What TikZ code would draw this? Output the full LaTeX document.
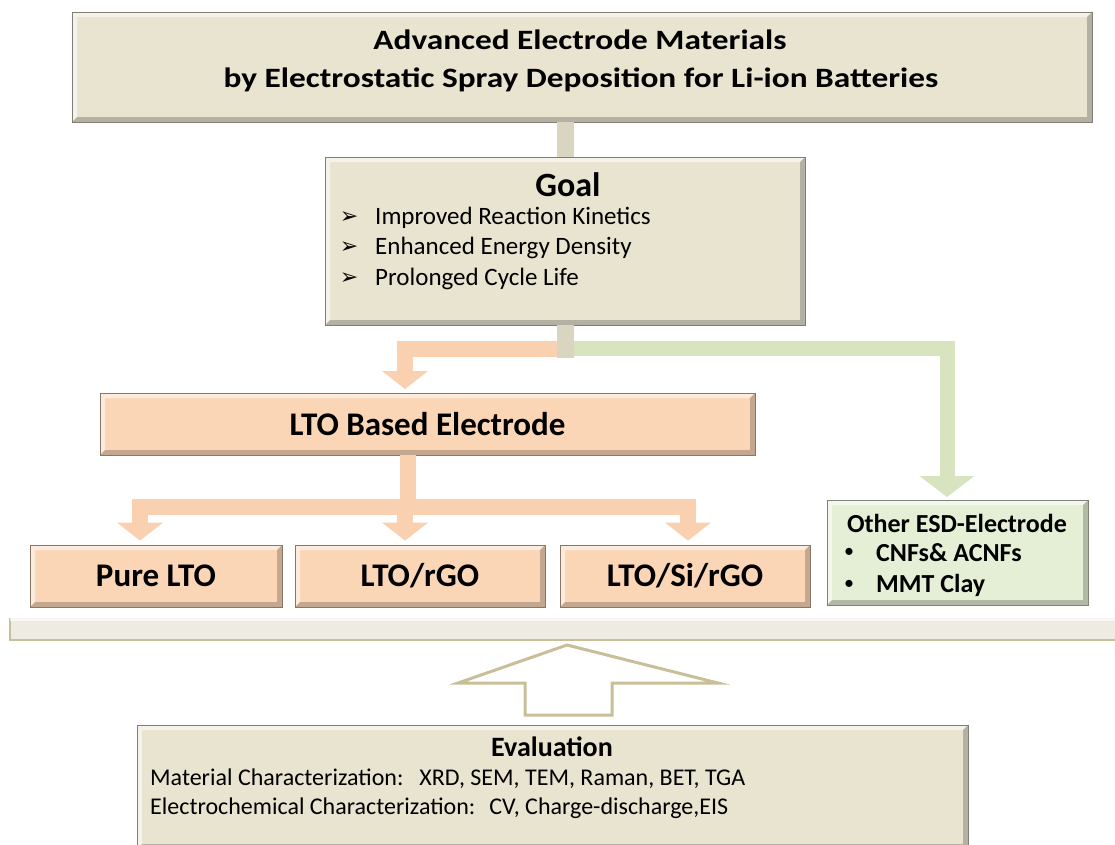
\documentclass[tikz,border=0pt]{standalone}
\usepackage{fontspec}
\usepackage{graphicx}
\setmainfont{Carlito}
\newfontfamily\symfont{DejaVu Sans}
\usetikzlibrary{arrows.meta}
\definecolor{beige}{HTML}{E9E4D0}
\definecolor{beigebar}{HTML}{D9D5C1}
\definecolor{peach}{HTML}{FBD6B6}
\definecolor{peachbar}{HTML}{FAD1B0}
\definecolor{lgreen}{HTML}{E5EFD5}
\definecolor{greenbar}{HTML}{D8E4C0}
\definecolor{platform}{HTML}{EEECE2}
\definecolor{olive}{HTML}{C8BF98}
\tikzset{
  bevel/.style={draw=#1!55!black, line width=0.8pt, fill=#1, inner sep=0pt,
    path picture={
      \path (path picture bounding box.north west) coordinate (bnw)
            (path picture bounding box.south east) coordinate (bse);
      \fill[white,opacity=0.55] (bnw) -- (bnw -| bse) -- ([shift={(-5pt,-5pt)}]bnw -| bse)
        -- ([shift={(5pt,-5pt)}]bnw) -- ([shift={(5pt,5pt)}]bnw |- bse) -- (bnw |- bse) -- cycle;
      \fill[black,opacity=0.22] (bse) -- (bse |- bnw) -- ([shift={(-5pt,-5pt)}]bse |- bnw)
        -- ([shift={(-5pt,5pt)}]bse) -- ([shift={(5pt,5pt)}]bnw |- bse) -- (bnw |- bse) -- cycle;
    }},
  bigbold/.style={font=\bfseries\fontsize{33}{38}\selectfont},
  txt/.style={inner sep=0pt, font=\fontsize{25}{30}\selectfont},
  evtxt/.style={inner sep=0pt, font=\fontsize{24}{28}\selectfont},
  othtxt/.style={inner sep=0pt, font=\bfseries\fontsize{26}{30}\selectfont},
  dotbul/.style={inner sep=0pt, font=\fontsize{20}{24}\selectfont},
  bul/.style={inner sep=0pt, font=\symfont\fontsize{22}{26}\selectfont},
  bbar/.style={draw=beigebar, line width=17pt},
  obar/.style={draw=peachbar, line width=16pt},
  oarrow/.style={obar, -{Triangle[width=46pt,length=18pt,line width=0pt]}, shorten >=4pt},
  garrow/.style={draw=greenbar, line width=15pt, -{Triangle[width=55pt,length=21pt,line width=0pt]}, shorten >=3pt},
}
\begin{document}
\begin{tikzpicture}[x=1pt,y=-1pt]
\useasboundingbox (0,0) rectangle (1115,844);
% boxes
\node[bevel=beige, minimum width=1020pt, minimum height=110pt] (title) at (582,67) {};
\node[inner sep=0pt, font=\bfseries\fontsize{28}{33}\selectfont] (title1) at (580,40)
  {\scalebox{1.19}[1]{Advanced Electrode Materials}};
\node[inner sep=0pt, font=\bfseries\fontsize{28}{33}\selectfont] (title2) at (581,80)
  {\scalebox{1.19}[1]{by Electrostatic Spray Deposition for Li-ion Batteries}};
\node[bevel=beige, minimum width=480pt, minimum height=168pt] (goal) at (565,241) {};
\node[inner sep=0pt, font=\bfseries\fontsize{34}{38}\selectfont] (goalt) at (568,185) {Goal};
\node[txt, anchor=west] (g1) at (375,218) {Improved Reaction Kinetics};
\node[txt, anchor=west] (g2) at (375,248) {Enhanced Energy Density};
\node[txt, anchor=west] (g3) at (375,279) {Prolonged Cycle Life};
\node[bul] (b1) at (349,218) {➢};
\node[bul] (b2) at (349,248) {➢};
\node[bul] (b3) at (349,279) {➢};

\node[bevel=peach, minimum width=655pt, minimum height=62pt, bigbold] (lto) at (427.5,424) {LTO Based Electrode};
\node[bevel=peach, minimum width=252pt, minimum height=62pt, bigbold] (pure) at (156,576) {Pure LTO};
\node[bevel=peach, minimum width=250pt, minimum height=62pt, bigbold] (rgo) at (420,576) {LTO/rGO};
\node[bevel=peach, minimum width=250pt, minimum height=62pt, bigbold] (si) at (685,576) {LTO/Si/rGO};

\node[bevel=lgreen, minimum width=261pt, minimum height=105pt] (other) at (957.5,552.5) {};
\node[othtxt] (othert) at (957,523) {Other ESD-Electrode};
\node[othtxt, anchor=west] (o1) at (876,553) {CNFs\& ACNFs};
\node[othtxt, anchor=west] (o2) at (876,585) {MMT Clay};
\node[dotbul] (ob1) at (849,553) {•};
\node[dotbul] (ob2) at (849,585) {•};

% platform
\node[fill=platform, minimum width=1110pt, minimum height=22pt, inner sep=0pt] (base) at (565,629) {};
\draw[olive, line width=2.5pt] (base.north west) -- (base.south west) -- (base.south east);
\fill[white, opacity=0.6] (base.north west) rectangle ([yshift=-3pt]base.north east);

% evaluation
\node[bevel=beige, minimum width=831pt, minimum height=124pt] (eval) at (552.5,787) {};
\node[inner sep=0pt, font=\bfseries\fontsize{28}{32}\selectfont] (evalt) at (552,747) {Evaluation};
\node[evtxt, anchor=west] (e1) at (150,779) {Material Characterization:\hspace{16pt}XRD, SEM, TEM, Raman, BET, TGA};
\node[evtxt, anchor=west] (e2) at (150,808) {Electrochemical Characterization:\hspace{14pt}CV, Charge-discharge,EIS};

% connectors
\coordinate (split) at (565,348.5);
\coordinate (ltoin) at (405,393);
\coordinate (otherin) at (947,500);
\coordinate (hub) at (408,507);
\coordinate (hubL) at (140,507);
\coordinate (hubM) at (405,507);
\coordinate (hubR) at (688,507);

\draw[oarrow] (split) -| (ltoin);
\draw[garrow] (split) -| (otherin);
\draw[bbar] (title.south -| goal.north) -- (goal.north);
\draw[bbar] (goal.south) -- ([yshift=-9pt]split);

\draw[obar] (lto.south -| hub) -- (hub);
\draw[obar, line cap=rect] (hubL) -- (hubR);
\draw[oarrow] (hubL) -- (hubL |- pure.north);
\draw[oarrow] (hubM) -- (hubM |- rgo.north);
\draw[oarrow] (hubR) -- (hubR |- si.north);

% outline up arrow
\coordinate (uptip) at (567,645);
\draw[olive, line width=3pt, fill=white, line join=miter]
  (uptip) -- (718,683) -- (612,683) -- (612,715) -- (525,715) -- (525,683) -- (458,683) -- cycle;
\end{tikzpicture}
\end{document}
